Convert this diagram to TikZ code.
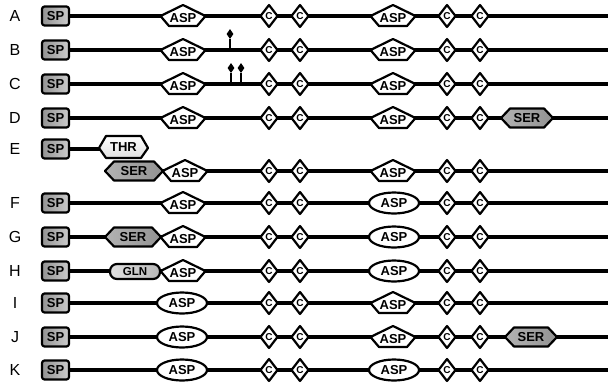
\documentclass[tikz,border=0pt]{standalone}
\usepackage{fontspec}
\setmainfont{Liberation Sans}
\usetikzlibrary{shapes.geometric}

\tikzset{
  backbone/.style={line width=3.4pt},
  outline/.style={draw=black, line width=2.2pt, line join=round},
  lbl/.style={inner sep=0pt, font=\fontsize{13}{15}\selectfont\bfseries},
  smalllbl/.style={inner sep=0pt, font=\fontsize{11.5}{13}\selectfont\bfseries},
  clbl/.style={inner sep=0pt, font=\fontsize{10}{11}\selectfont\bfseries},
  rowlbl/.style={inner sep=0pt, font=\fontsize{16}{18}\selectfont},
  pinhead/.style={diamond, fill=black, inner sep=0pt, minimum width=7pt, minimum height=10pt},
  pinstem/.style={line width=2pt},
}

% signal peptide box
\newcommand\SPbox[2]{%
  \path[outline, rounded corners=2.5pt, left color=gray!85, right color=gray!40, shift={#2}]
    (-13.5,-9.5) rectangle (13.5,9.5);
  \node[lbl, minimum width=27pt, minimum height=19pt] (#1) at #2 {SP};}
% ASP pentagon
\newcommand\Pent[2]{%
  \path[outline, fill=white, shift={#2}]
    (-22.5,0) -- (0,-11) -- (22.5,0) -- (14,10) -- (-14,10) -- cycle;
  \node[lbl, yshift=-2pt, minimum width=45pt] (#1) at #2 {ASP};}
% ASP oval
\newcommand\Oval[2]{%
  \path[outline, fill=white, shift={#2}] (0,0) ellipse [x radius=25pt, y radius=10.5pt];
  \node[lbl, minimum width=50pt] (#1) at #2 {ASP};}
% cysteine diamond
\newcommand\Cys[2]{%
  \path[outline, fill=white, shift={#2}] (0,-11) -- (8.5,0) -- (0,11) -- (-8.5,0) -- cycle;
  \node[clbl, minimum width=17pt] (#1) at #2 {C};}
% SER hexagon: name, position, half width
\newcommand\Ser[3]{%
  \path[outline, left color=gray!60, middle color=gray!30, right color=gray!85, shift={#2}]
    (-#3,0) -- ({-#3+9},-9.5) -- ({#3-9},-9.5) -- (#3,0) -- ({#3-9},9.5) -- ({-#3+9},9.5) -- cycle;
  \node[lbl, minimum width=2*#3 pt] (#1) at #2 {SER};}
% four cysteines and the second ASP domain
\newcommand\CoreP[2]{%
  \Cys{#1ca}{(269,#2)}\Cys{#1cb}{(300,#2)}\Pent{#1asptwo}{(393,#2)}\Cys{#1cc}{(447,#2)}\Cys{#1cd}{(480,#2)}}
\newcommand\CoreO[2]{%
  \Cys{#1ca}{(269,#2)}\Cys{#1cb}{(300,#2)}\Oval{#1asptwo}{(394,#2)}\Cys{#1cc}{(447,#2)}\Cys{#1cd}{(480,#2)}}
% glycosylation pin
\newcommand\Pin[3]{%
  \coordinate (#1base) at (#2,#3);
  \node[pinhead] (#1) at (#2,#3-16) {};
  \draw[pinstem] (#1base) -- (#1.south);}

\begin{document}
\begin{tikzpicture}[x=1pt, y=-1pt]
\useasboundingbox (0,0) rectangle (608,384);

% row labels
\node[rowlbl] (lA) at (15,16) {A};
\node[rowlbl] (lB) at (15,50) {B};
\node[rowlbl] (lC) at (15,84) {C};
\node[rowlbl] (lD) at (15,118) {D};
\node[rowlbl] (lE) at (15,149) {E};
\node[rowlbl] (lF) at (15,203) {F};
\node[rowlbl] (lG) at (15,237) {G};
\node[rowlbl] (lH) at (15,271) {H};
\node[rowlbl] (lI) at (15,303) {I};
\node[rowlbl] (lJ) at (15,337) {J};
\node[rowlbl] (lK) at (15,370) {K};

% line ends
\coordinate (endA) at (608,16);
\coordinate (endB) at (608,50);
\coordinate (endC) at (608,84);
\coordinate (endD) at (608,118);
\coordinate (endE) at (608,171);
\coordinate (endF) at (608,203);
\coordinate (endG) at (608,237);
\coordinate (endH) at (608,271);
\coordinate (endI) at (608,303);
\coordinate (endJ) at (608,337);
\coordinate (endK) at (608,370);

% A
\SPbox{spA}{(55.5,16)}
\draw[backbone] (spA.east) -- (endA);
\Pent{aA}{(183,16)}\CoreP{A}{16}

% B
\SPbox{spB}{(55.5,50)}
\draw[backbone] (spB.east) -- (endB);
\Pin{pinB}{230}{50}
\Pent{aB}{(183,50)}\CoreP{B}{50}

% C
\SPbox{spC}{(55.5,84)}
\draw[backbone] (spC.east) -- (endC);
\Pin{pinCa}{231}{84}
\Pin{pinCb}{241}{84}
\Pent{aC}{(183,84)}\CoreP{C}{84}

% D
\SPbox{spD}{(55.5,118)}
\draw[backbone] (spD.east) -- (endD);
\Pent{aD}{(183,118)}\CoreP{D}{118}
\Ser{serD}{(527,118)}{26}

% E
\SPbox{spE}{(55.5,149)}
\coordinate (thrin) at (100,149);
\draw[backbone] (spE.east) -- (thrin);
\path[outline, top color=white, bottom color=gray!25]
  (99,148) -- (106,136) -- (141,136) -- (148,148) -- (141,158) -- (106,158) -- cycle;
\node[lbl, minimum width=49pt] (thrE) at (123.5,147) {THR};
\coordinate (serEtip) at (134,171);
\draw[backbone] (serEtip) -- (endE);
\Ser{serE}{(134,171)}{29}
\Pent{aE}{(185,171)}\CoreP{E}{171}

% F
\SPbox{spF}{(55.5,203)}
\draw[backbone] (spF.east) -- (endF);
\Pent{aF}{(183,203)}\CoreO{F}{203}

% G
\SPbox{spG}{(55.5,237)}
\draw[backbone] (spG.east) -- (endG);
\Ser{serG}{(133,237)}{28}
\Pent{aG}{(183,237)}\CoreO{G}{237}

% H
\SPbox{spH}{(55.5,271)}
\draw[backbone] (spH.east) -- (endH);
\path[outline, rounded corners=7pt, left color=gray!25, right color=gray!55]
  (110,264) rectangle (160,279);
\node[smalllbl, minimum width=50pt] (glnH) at (135,271.5) {GLN};
\Pent{aH}{(183,271)}\CoreO{H}{271}

% I
\SPbox{spI}{(55.5,303)}
\draw[backbone] (spI.east) -- (endI);
\Oval{aI}{(182,303)}\CoreP{I}{303}

% J
\SPbox{spJ}{(55.5,337)}
\draw[backbone] (spJ.east) -- (endJ);
\Oval{aJ}{(182,337)}\CoreP{J}{337}
\Ser{serJ}{(531,337)}{26}

% K
\SPbox{spK}{(55.5,370)}
\draw[backbone] (spK.east) -- (endK);
\Oval{aK}{(182,370)}\CoreO{K}{370}

\end{tikzpicture}
\end{document}
